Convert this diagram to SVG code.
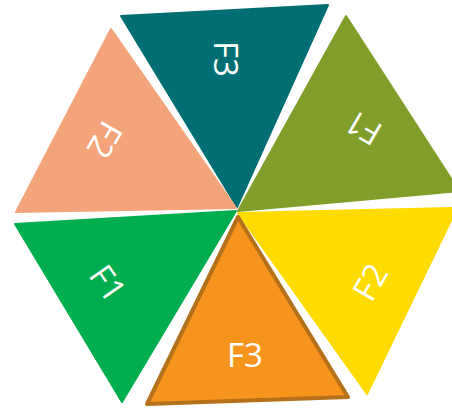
<svg xmlns="http://www.w3.org/2000/svg" width="452" height="409" viewBox="0 0 452 409">
<style>
.tri{stroke-linejoin:round;stroke-width:2}
.lbl{font-family:"Open Sans","Noto Sans",sans-serif;font-size:33px;fill:#FFFFFF;text-anchor:middle}
</style>
<rect width="452" height="409" fill="#FFFFFF"/>
<g id="connectors"></g>
<g id="teal">
<polygon class="tri" points="121,16 328,5 237,207" fill="#006E72" stroke="#006E72"/>
<text class="lbl" transform="translate(226,59) rotate(90)" y="12">F3</text>
</g>
<g id="peach">
<polygon class="tri" points="111,29 16,212 236,208" fill="#F4A47B" stroke="#F4A47B"/>
<text class="lbl" transform="translate(105,140) rotate(120)" y="12">F2</text>
</g>
<g id="olive">
<polygon class="tri" points="346,16 459,191 238,211" fill="#819E2B" stroke="#819E2B"/>
<text class="lbl" transform="translate(363,128) rotate(210)" y="12">F1</text>
</g>
<g id="green">
<polygon class="tri" points="15,224 236,211 122,402" fill="#00AE4F" stroke="#00AE4F"/>
<text class="lbl" transform="translate(108,283) rotate(55)" y="12">F1</text>
</g>
<g id="yellow">
<polygon class="tri" points="238,213 457,208 367,394" fill="#FFDB00" stroke="#FFDB00"/>
<text class="lbl" transform="translate(370,282) rotate(-60)" y="12">F2</text>
</g>
<g id="orange">
<polygon points="238,217 147,404 348,397" fill="#F7941E" stroke="#B5701A" stroke-width="4" stroke-linejoin="round"/>
<text class="lbl" x="245" y="367">F3</text>
</g>
</svg>
